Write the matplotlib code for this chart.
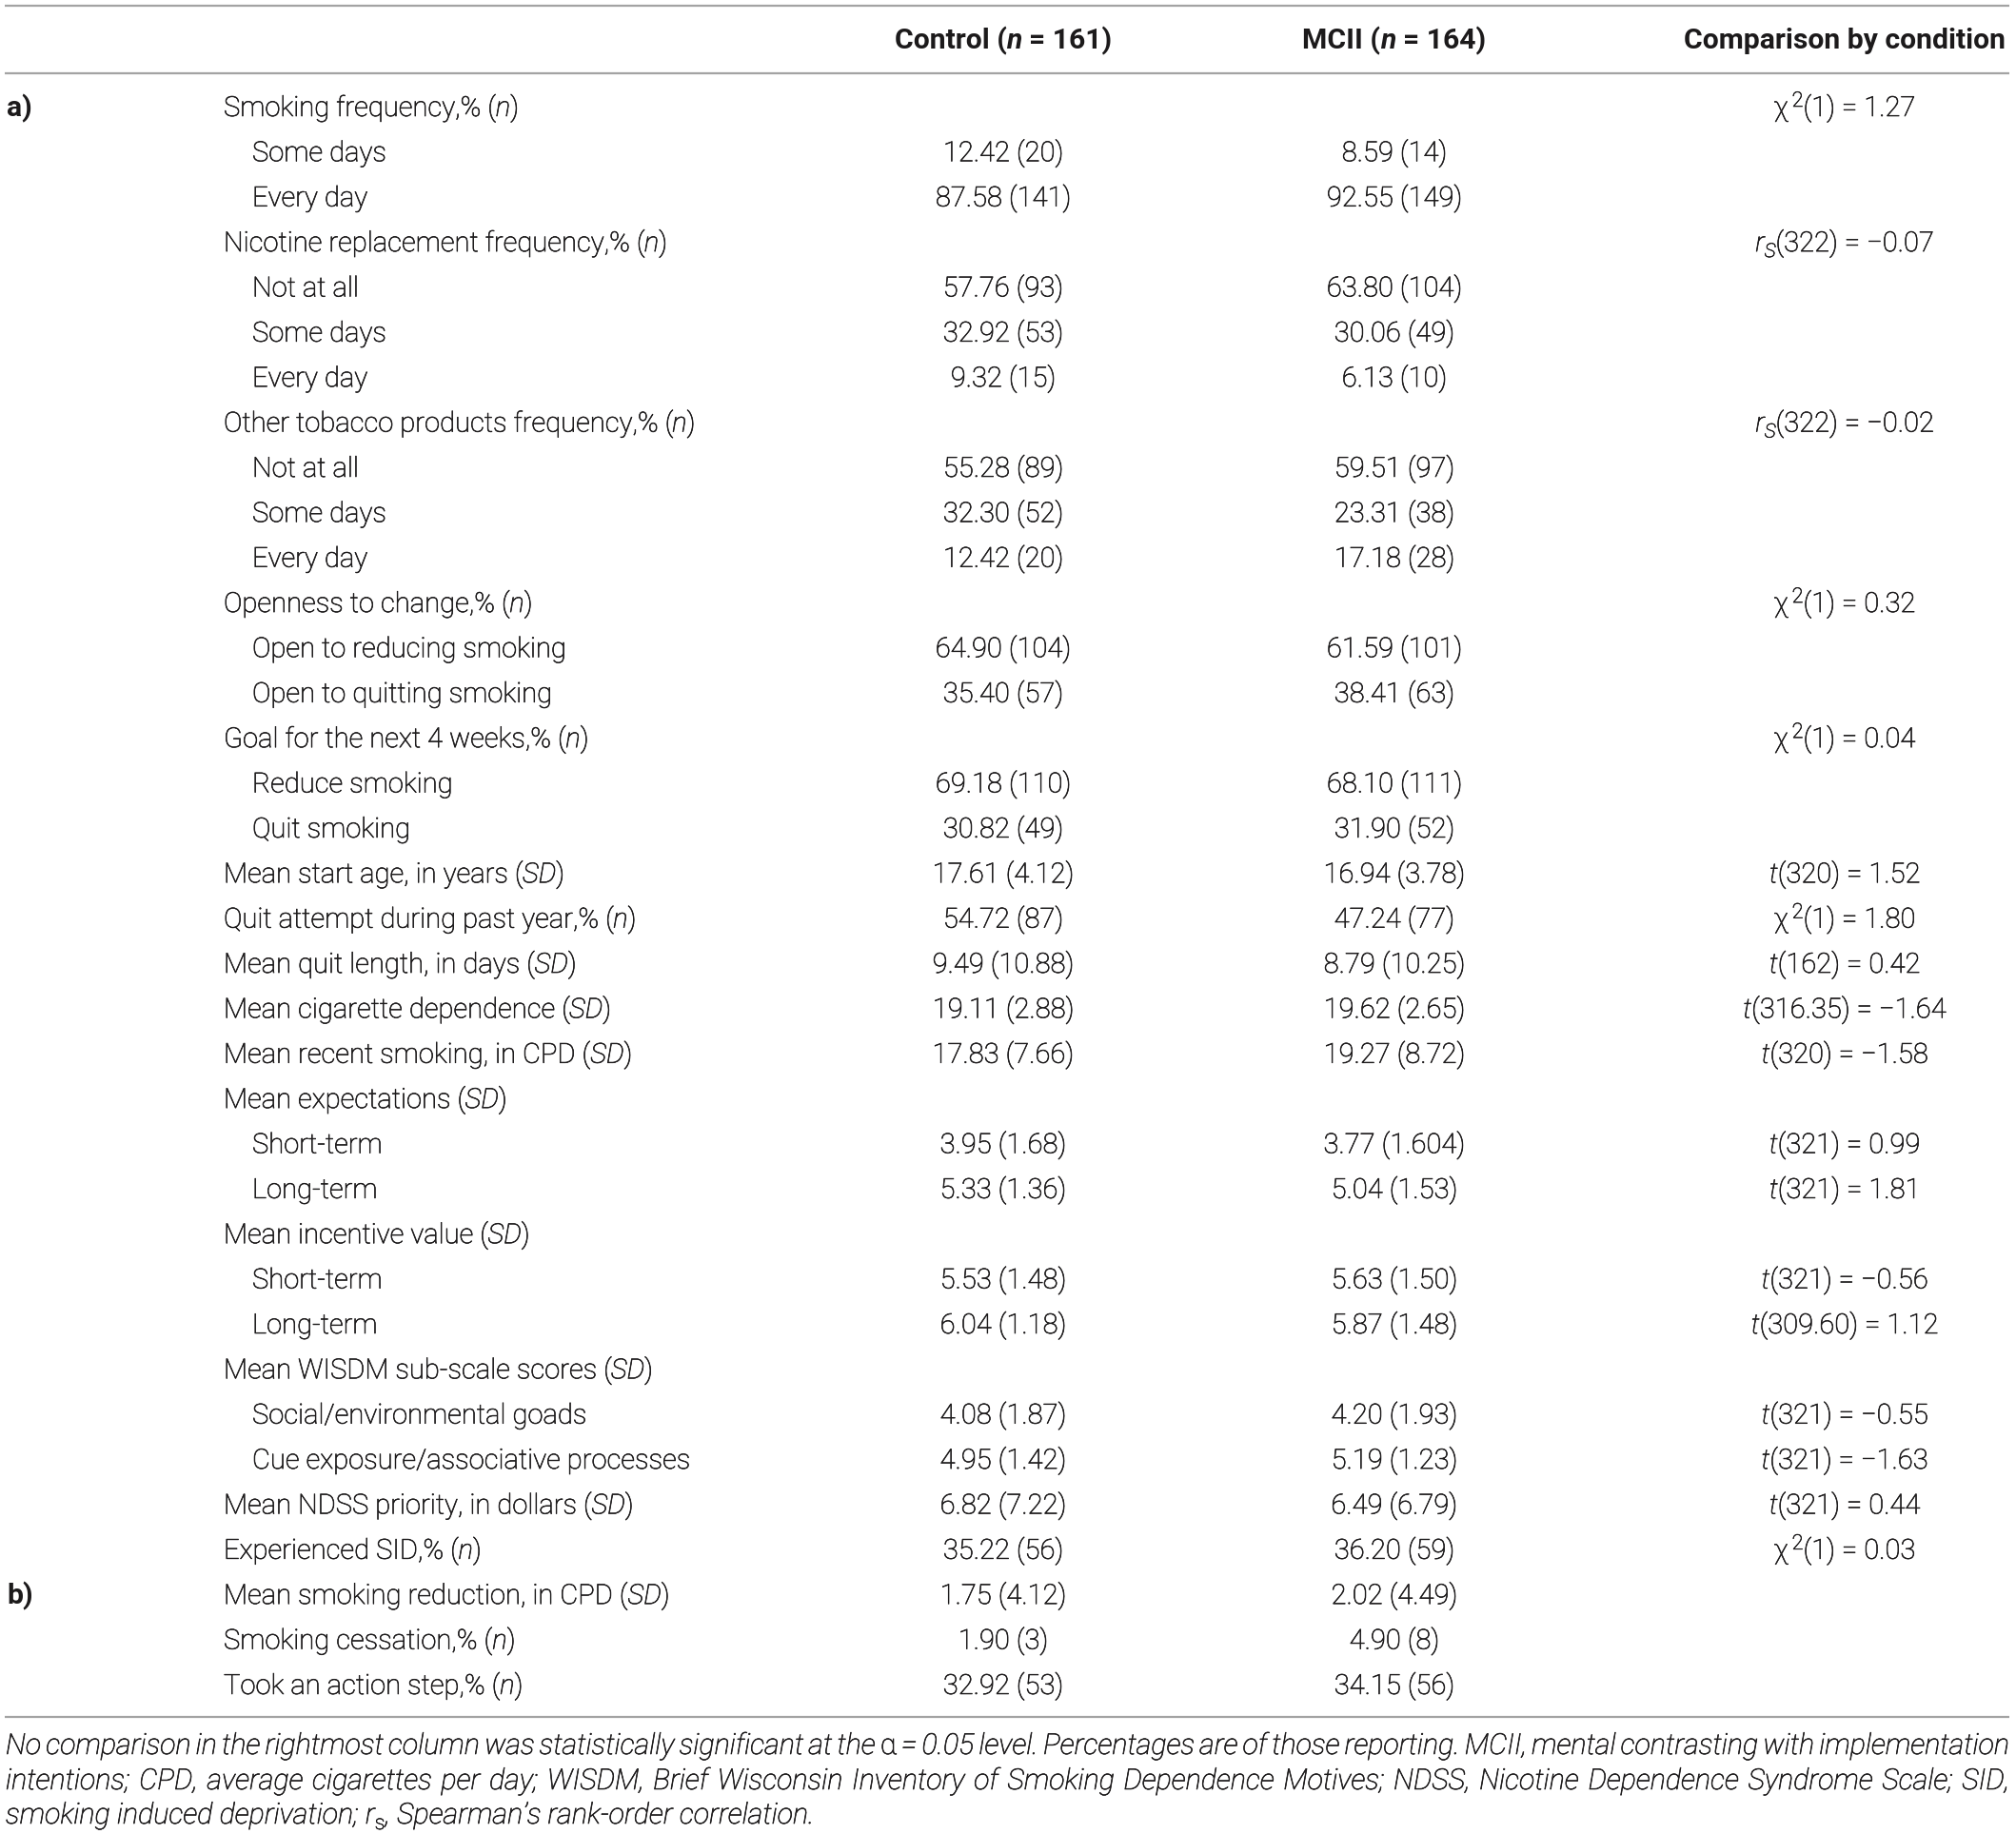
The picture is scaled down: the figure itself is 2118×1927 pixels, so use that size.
import matplotlib
matplotlib.use('Agg')
import matplotlib.pyplot as plt
import matplotlib.patheffects as pe

# table contents
headers = ['Control (n = 161)', 'MCII (n = 164)', 'Comparison by condition']

labels = [
    'Smoking frequency,% (n)', 'Some days', 'Every day',
    'Nicotine replacement frequency,% (n)', 'Not at all', 'Some days', 'Every day',
    'Other tobacco products frequency,% (n)', 'Not at all', 'Some days', 'Every day',
    'Openness to change,% (n)', 'Open to reducing smoking', 'Open to quitting smoking',
    'Goal for the next 4 weeks,% (n)', 'Reduce smoking', 'Quit smoking',
    'Mean start age, in years (SD)', 'Quit attempt during past year,% (n)',
    'Mean quit length, in days (SD)', 'Mean cigarette dependence (SD)',
    'Mean recent smoking, in CPD (SD)',
    'Mean expectations (SD)', 'Short-term', 'Long-term',
    'Mean incentive value (SD)', 'Short-term', 'Long-term',
    'Mean WISDM sub-scale scores (SD)', 'Social/environmental goads',
    'Cue exposure/associative processes',
    'Mean NDSS priority, in dollars (SD)', 'Experienced SID,% (n)',
    'Mean smoking reduction, in CPD (SD)', 'Smoking cessation,% (n)',
    'Took an action step,% (n)',
]
levels = [0, 1, 1, 0, 1, 1, 1, 0, 1, 1, 1, 0, 1, 1, 0, 1, 1,
          0, 0, 0, 0, 0, 0, 1, 1, 0, 1, 1, 0, 1, 1, 0, 0, 0, 0, 0]

control = ['', '12.42 (20)', '87.58 (141)', '', '57.76 (93)', '32.92 (53)', '9.32 (15)',
           '', '55.28 (89)', '32.30 (52)', '12.42 (20)', '', '64.90 (104)', '35.40 (57)',
           '', '69.18 (110)', '30.82 (49)', '17.61 (4.12)', '54.72 (87)', '9.49 (10.88)',
           '19.11 (2.88)', '17.83 (7.66)', '', '3.95 (1.68)', '5.33 (1.36)', '',
           '5.53 (1.48)', '6.04 (1.18)', '', '4.08 (1.87)', '4.95 (1.42)', '6.82 (7.22)',
           '35.22 (56)', '1.75 (4.12)', '1.90 (3)', '32.92 (53)']
mcii = ['', '8.59 (14)', '92.55 (149)', '', '63.80 (104)', '30.06 (49)', '6.13 (10)',
        '', '59.51 (97)', '23.31 (38)', '17.18 (28)', '', '61.59 (101)', '38.41 (63)',
        '', '68.10 (111)', '31.90 (52)', '16.94 (3.78)', '47.24 (77)', '8.79 (10.25)',
        '19.62 (2.65)', '19.27 (8.72)', '', '3.77 (1.604)', '5.04 (1.53)', '',
        '5.63 (1.50)', '5.87 (1.48)', '', '4.20 (1.93)', '5.19 (1.23)', '6.49 (6.79)',
        '36.20 (59)', '2.02 (4.49)', '4.90 (8)', '34.15 (56)']
comparison = ['χ2(1) = 1.27', '', '', 'rs(322) = −0.07', '', '', '', 'rs(322) = −0.02',
              '', '', '', 'χ2(1) = 0.32', '', '', 'χ2(1) = 0.04', '', '',
              't(320) = 1.52', 'χ2(1) = 1.80', 't(162) = 0.42', 't(316.35) = −1.64',
              't(320) = −1.58', '', 't(321) = 0.99', 't(321) = 1.81', '',
              't(321) = −0.56', 't(309.60) = 1.12', '', 't(321) = −0.55',
              't(321) = −1.63', 't(321) = 0.44', 'χ2(1) = 0.03', '', '', '']
sections = ['a)', 'b)']
section_rows = [0, 33]

footnote = [
    'No comparison in the rightmost column was statistically significant at the α = 0.05 '
    'level. Percentages are of those reporting. MCII, mental contrasting with implementation',
    'intentions; CPD, average cigarettes per day; WISDM, Brief Wisconsin Inventory of '
    'Smoking Dependence Motives; NDSS, Nicotine Dependence Syndrome Scale; SID,',
    'smoking induced deprivation; r_s, Spearman’s rank-order correlation.',
]

# layout (pixels)
W, H, DPI = 2118, 1927, 100
FONT = 'Roboto'
SIZE = 21
HEAD_SIZE = 21.7
FOOT_SIZE = 21.9
INK = '#1c1a1b'
RULE = '#a3a3a3'
row0, row_step = 112, 47.37
x_label = [235, 265]
col_x = [1054, 1465, 1938]

fig = plt.figure(figsize=(W / DPI, H / DPI), dpi=DPI)
ax = fig.add_axes([0, 0, 1, 1])
ax.set_xlim(0, W)
ax.set_ylim(H, 0)
ax.axis('off')
renderer = fig.canvas.get_renderer()
thicken = [pe.withStroke(linewidth=0.45, foreground=INK)]

STYLES = {
    'n': ('normal', 'light', 1.0, 0),
    'i': ('italic', 'light', 1.0, 0),
    'b': ('normal', 'bold', 1.0, 0),
    'bi': ('italic', 'bold', 1.0, 0),
    'sup': ('normal', 'light', 0.75, -10),
    'sub': ('normal', 'light', 0.7, 6),
    'subi': ('italic', 'light', 0.7, 6),
}


def new_text(s, kind, size):
    style, weight, scale, _ = STYLES[kind]
    t = ax.text(0, 0, s, fontsize=size * scale, family=FONT, fontstyle=style,
                fontweight=weight, color=INK, va='baseline', ha='left')
    if weight == 'light':
        t.set_path_effects(thicken)
    return t


def text_width(s, kind, size):
    t = new_text(s, kind, size)
    w = t.get_window_extent(renderer).width
    t.remove()
    return w


space_cache = {}


def space_width(kind, size):
    key = (kind, size)
    if key not in space_cache:
        space_cache[key] = text_width('x x', kind, size) - text_width('xx', kind, size)
    return space_cache[key]


def run_width(s, kind, size):
    if kind == 'gap':
        return float(s)
    core = s.strip(' ')
    lead = len(s) - len(s.lstrip(' '))
    trail = len(s) - len(s.rstrip(' '))
    sw = space_width(kind, size)
    return lead * sw + (text_width(core, kind, size) if core else 0) + trail * sw


def runs_width(runs, size):
    return sum(run_width(s, kind, size) for s, kind in runs)


def draw_runs(x, y, runs, ha='left', size=SIZE):
    if ha == 'center':
        x -= runs_width(runs, size) / 2
    elif ha == 'right':
        x -= runs_width(runs, size)
    for s, kind in runs:
        if kind == 'gap':
            x += float(s)
            continue
        core = s.strip(' ')
        lead = len(s) - len(s.lstrip(' '))
        trail = len(s) - len(s.rstrip(' '))
        sw = space_width(kind, size)
        x += lead * sw
        if core:
            t = new_text(core, kind, size)
            t.set_position((x, y + STYLES[kind][3]))
            x += t.get_window_extent(renderer).width
        x += trail * sw
    return x


def label_runs(s):
    for tag in ('n', 'SD'):
        suffix = '(' + tag + ')'
        if s.endswith(suffix):
            return [(s[:-len(suffix)] + '(', 'n'), (tag, 'i'), (')', 'n')]
    return [(s, 'n')]


def comp_runs(s):
    if s.startswith('χ2'):
        return [('χ', 'n'), ('4', 'gap'), ('2', 'sup'), (s[2:], 'n')]
    if s.startswith('rs'):
        return [('r', 'i'), ('S', 'subi'), (s[2:], 'n')]
    if s.startswith('t('):
        return [('t', 'i'), (s[1:], 'n')]
    return [(s, 'n')]


def header_runs(s):
    if '(n' in s:
        a, b = s.split('(n')
        return [(a + '(', 'b'), ('n', 'bi'), (b, 'b')]
    return [(s, 'b')]


base = 10  # centre of row -> baseline

# rules
for yy in (6, 77, 1804):
    ax.plot([5, 2111], [yy, yy], color=RULE, lw=1.6, solid_capstyle='butt')

# header
for cx, h in zip(col_x, headers):
    draw_runs(cx, 41 + base, header_runs(h), ha='center', size=HEAD_SIZE)

# body
for i, lab in enumerate(labels):
    y = row0 + i * row_step + base
    draw_runs(x_label[levels[i]], y, label_runs(lab))
    if control[i]:
        draw_runs(col_x[0], y, [(control[i], 'n')], ha='center')
    if mcii[i]:
        draw_runs(col_x[1], y, [(mcii[i], 'n')], ha='center')
    if comparison[i]:
        draw_runs(col_x[2], y, comp_runs(comparison[i]), ha='center')

for sec, r in zip(sections, section_rows):
    draw_runs(7, row0 + r * row_step + base, [(sec, 'b')], size=HEAD_SIZE)

# footnote, justified italic lines
foot_left, foot_right = 6, 2111
foot_y = [1833, 1870, 1906]


def word_runs(w):
    if w == 'α':
        return [(w, 'n')]
    if w.startswith('r_s'):
        return [('r', 'i'), ('s', 'sub'), (w[3:], 'i')]
    return [(w, 'i')]


for k, line in enumerate(footnote):
    words = [word_runs(w) for w in line.split(' ')]
    widths = [runs_width(w, FOOT_SIZE) for w in words]
    if k < len(footnote) - 1:
        gap = (foot_right - foot_left - sum(widths)) / (len(words) - 1)
    else:
        gap = space_width('i', FOOT_SIZE)
    x = foot_left
    for w, wd in zip(words, widths):
        draw_runs(x, foot_y[k] + base, w, size=FOOT_SIZE)
        x += wd + gap

fig.savefig('out.png', dpi=DPI, facecolor='white')
